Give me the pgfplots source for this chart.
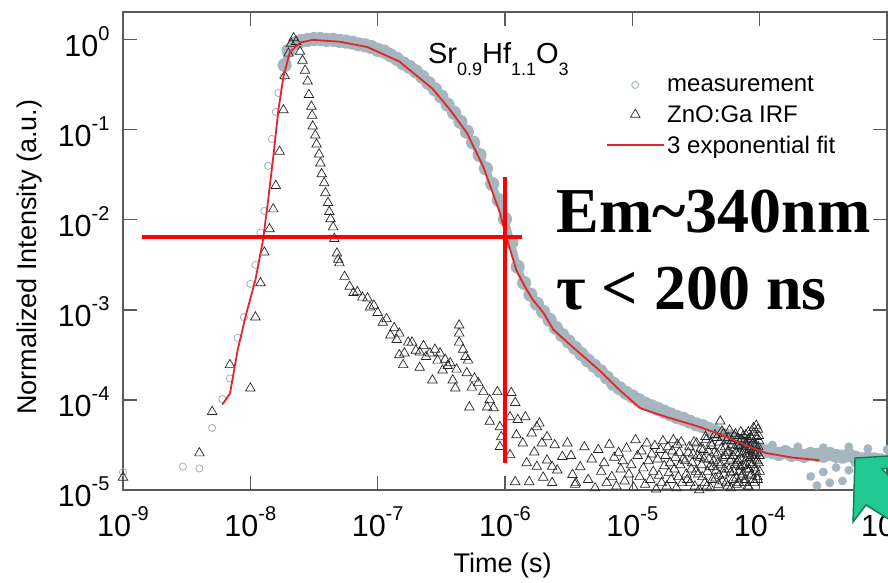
\documentclass[border=0pt]{standalone}
\usepackage{pgfplots}
\pgfplotsset{compat=1.18}
\usepackage{fontspec}
\setmainfont{Liberation Sans}
\newfontfamily\timesfont{Liberation Serif}
\definecolor{meas}{HTML}{A6B6BE}
\definecolor{measo}{HTML}{9FB0B9}
\definecolor{fitred}{HTML}{E3262A}
\definecolor{axgray}{HTML}{5A5A5A}
\definecolor{arrowfill}{HTML}{22C892}
\definecolor{arrowline}{HTML}{0E7A56}
\newcommand{\sups}[1]{\raisebox{16pt}{\fontsize{20}{21}\selectfont #1}}
\newcommand{\subs}[1]{\raisebox{-12pt}{\fontsize{18}{19}\selectfont #1}}
\begin{document}
\begin{tikzpicture}
\begin{axis}[
  set layers,
  scale only axis, width=764pt, height=478pt,
  xmode=log, ymode=log, log basis x=10, log basis y=10,
  xmin=1e-9, xmax=1e-3, ymin=1e-5, ymax=2.04,
  axis line style={draw=axgray, line width=1.1pt},
  every tick/.style={draw=axgray, line width=1.1pt},
  major tick length=14pt, minor tick length=8pt,
  xtick={1e-9,1e-8,1e-7,1e-6,1e-5,1e-4,1e-3},
  ytick={1e-5,1e-4,1e-3,1e-2,1e-1,1},
  xticklabel={\pgfmathtruncatemacro{\e}{round(\tick)}10\sups{\e}},
  yticklabel={\pgfmathtruncatemacro{\e}{round(\tick)}10\sups{\e}},
  every tick label/.append style={font=\fontsize{30.5}{32}\selectfont},
  xticklabel style={yshift=-13pt},
  yticklabel style={xshift=-10pt, yshift=-2pt},
  xlabel={Time (s)}, ylabel={Normalized Intensity (a.u.)},
  label style={font=\fontsize{27}{29}\selectfont},
  xlabel style={at={(axis description cs:0.497,-0.157)}, anchor=center},
  ylabel style={at={(axis description cs:-0.123,0.487)}, anchor=center},
  legend style={at={(rel axis cs:0.6285,0.874)}, anchor=north west, draw=none, fill=none,
     font=\fontsize{24}{26}\selectfont, row sep=8pt},
  legend cell align=left,
  legend image code/.code={\draw[mark repeat=2,mark phase=2,#1] plot coordinates {(0pt,0pt) (28pt,0pt) (57pt,0pt)};},
]
% measurement (sparse early points)
\addplot[only marks, mark=o, mark size=3.6pt, draw=measo, mark options={line width=0.8pt}] coordinates {
(1e-9,1.585e-5) (2.951e-9,1.820e-5) (3.981e-9,1.738e-5) (5.012e-9,4.898e-5)
(6.026e-9,1.023e-4) (6.918e-9,1.738e-4) (7.943e-9,4.898e-4) (8.913e-9,8.318e-4)
(1.0e-8,1.950e-3) (1.096e-8,3.162e-3) (1.202e-8,7.244e-3) (1.288e-8,1.259e-2)
(1.380e-8,3.981e-2) (1.479e-8,7.943e-2) (1.585e-8,0.1585) (1.660e-8,0.2570)
(1.820e-8,0.3890) (1.862e-8,0.5248)
};
\addlegendentry{measurement}
% measurement (dense part, overlapping points)
\addplot[color=meas, line width=6.5pt, line join=round, line cap=round, mark=*, mark size=4pt, forget plot] coordinates {
(1.862e-8,0.5248) (1.995e-8,0.7586) (2.239e-8,0.9120) (2.512e-8,0.9772) (2.818e-8,1.0) (3.162e-8,1.023)
(3.548e-8,1.023) (3.981e-8,1.0) (4.467e-8,1.0) (5.012e-8,0.9772) (5.623e-8,0.9550)
(6.310e-8,0.9333) (7.079e-8,0.8913) (7.943e-8,0.8710) (8.913e-8,0.8318) (1.0e-7,0.7762)
(1.122e-7,0.7413) (1.259e-7,0.6761) (1.413e-7,0.6166) (1.585e-7,0.5495) (1.778e-7,0.5012)
(1.995e-7,0.4467) (2.239e-7,0.3890) (2.512e-7,0.3311) (2.818e-7,0.2818) (3.162e-7,0.2344)
(3.548e-7,0.1905) (3.981e-7,0.1549) (4.467e-7,0.1230) (5.012e-7,9.550e-2) (5.623e-7,7.244e-2)
(6.310e-7,5.248e-2) (7.079e-7,3.715e-2) (7.943e-7,2.512e-2) (8.913e-7,1.660e-2) (1.0e-6,1.023e-2)
(1.122e-6,5.623e-3) (1.259e-6,3.020e-3) (1.413e-6,1.995e-3) (1.585e-6,1.479e-3) (1.778e-6,1.175e-3)
(1.995e-6,9.550e-4) (2.239e-6,7.762e-4) (2.512e-6,6.310e-4) (2.818e-6,5.248e-4) (3.162e-6,4.467e-4)
(3.548e-6,3.802e-4) (3.981e-6,3.236e-4) (4.467e-6,2.754e-4) (5.012e-6,2.399e-4) (5.623e-6,2.089e-4)
(6.310e-6,1.778e-4) (7.079e-6,1.514e-4) (7.943e-6,1.349e-4) (8.913e-6,1.202e-4) (1.0e-5,1.096e-4)
(1.122e-5,1.0e-4) (1.259e-5,9.120e-5) (1.413e-5,8.511e-5) (1.585e-5,7.943e-5) (1.778e-5,7.413e-5)
(1.995e-5,6.918e-5) (2.239e-5,6.457e-5) (2.512e-5,6.166e-5) (2.818e-5,5.754e-5) (3.162e-5,5.370e-5)
(3.548e-5,5.129e-5) (3.981e-5,4.786e-5) (4.467e-5,4.467e-5) (5.012e-5,4.169e-5) (5.623e-5,3.981e-5)
(6.310e-5,3.715e-5) (7.079e-5,3.467e-5) (7.943e-5,3.311e-5) (8.913e-5,3.020e-5) (1.0e-4,2.818e-5)
(1.122e-4,2.692e-5) (1.259e-4,2.630e-5) (1.413e-4,2.512e-5) (1.585e-4,2.630e-5) (1.778e-4,2.455e-5)
(1.995e-4,2.512e-5) (2.239e-4,2.399e-5) (2.512e-4,2.512e-5) (2.818e-4,2.455e-5) (3.162e-4,2.399e-5)
(3.548e-4,2.512e-5) (3.981e-4,2.399e-5) (4.467e-4,2.344e-5) (5.012e-4,2.455e-5) (5.623e-4,2.291e-5)
(6.310e-4,2.188e-5) (7.079e-4,2.239e-5) (7.943e-4,2.188e-5) (8.913e-4,2.138e-5) (1.0e-3,2.089e-5)
};
% measurement (scatter in the tail)
\addplot[only marks, mark=*, mark size=4.2pt, color=meas, forget plot] coordinates {
(2.512e-4,1.413e-5) (2.818e-4,1.122e-5) (3.162e-4,1.585e-5) (3.548e-4,1.202e-5) (3.981e-4,1.778e-5)
(4.467e-4,1.259e-5) (5.012e-4,1.660e-5) (5.623e-4,1.995e-5) (6.310e-4,1.585e-5) (7.943e-4,1.778e-5)
(8.913e-4,1.413e-5) (1.259e-4,3.162e-5) (1.995e-4,3.020e-5) (3.162e-4,2.951e-5) (5.012e-4,3.020e-5)
(7.079e-4,2.884e-5) (1.0e-3,2.818e-5)
};
% ZnO:Ga IRF
\addplot[only marks, mark=triangle, mark size=5.5pt, draw=black!85, mark options={line width=0.7pt}] coordinates {
(1e-9,1.380e-5) (3.981e-9,2.570e-5) (5.012e-9,7.413e-5) (6.918e-9,2.455e-4) (1.0e-8,1.349e-4)
(1.096e-8,8.318e-4) (1.202e-8,1.995e-3) (1.288e-8,4.365e-3) (1.413e-8,7.943e-3) (1.514e-8,1.318e-2)
(1.585e-8,2.399e-2) (1.698e-8,5.754e-2) (1.820e-8,0.1660) (1.862e-8,0.3981) (1.995e-8,0.7079)
(2.089e-8,0.9120) (2.188e-8,1.047) (2.291e-8,0.9550)
(2.455e-8,0.7413) (2.570e-8,0.5888) (2.692e-8,0.4571) (2.818e-8,0.3467) (2.884e-8,0.2455)
(3.020e-8,0.1820) (3.055e-8,0.1445) (3.090e-8,0.1096) (3.236e-8,8.710e-2) (3.311e-8,6.918e-2)
(3.467e-8,5.370e-2) (3.548e-8,4.266e-2) (3.631e-8,3.236e-2) (3.802e-8,2.570e-2) (3.890e-8,1.995e-2)
(4.074e-8,1.549e-2) (4.169e-8,1.230e-2) (4.266e-8,1.023e-2) (4.467e-8,8.318e-3) (4.571e-8,6.166e-3)
(4.786e-8,4.266e-3) (4.898e-8,3.631e-3) (5.012e-8,3.311e-3) (5.495e-8,2.344e-3) (6.026e-8,1.820e-3)
(6.457e-8,1.549e-3) (6.918e-8,1.585e-3) (7.586e-8,1.380e-3) (8.318e-8,1.349e-3) (8.710e-8,1.072e-3)
(9.333e-8,1.122e-3) (1.0e-7,9.333e-4) (1.096e-7,7.244e-4) (1.175e-7,7.943e-4) (1.259e-7,5.248e-4)
(1.349e-7,6.310e-4) (1.413e-7,4.677e-4) (1.479e-7,5.495e-4) (1.479e-7,3.162e-4) (1.585e-7,2.455e-4)
(1.622e-7,3.311e-4) (1.738e-7,4.365e-4) (1.862e-7,4.365e-4) (1.995e-7,3.548e-4) (2.138e-7,3.388e-4)
(2.138e-7,2.291e-4) (2.291e-7,3.981e-4) (2.399e-7,3.020e-4) (2.570e-7,3.311e-4) (2.692e-7,1.660e-4)
(2.818e-7,3.631e-4) (2.951e-7,2.754e-4) (3.090e-7,3.311e-4) (3.236e-7,2.138e-4) (3.388e-7,2.818e-4)
(3.548e-7,2.399e-4) (3.715e-7,2.570e-4) (3.890e-7,1.660e-4) (4.074e-7,1.349e-4) (4.169e-7,2.188e-4)
(4.365e-7,6.761e-4) (4.365e-7,5.495e-4) (4.365e-7,4.365e-4) (4.677e-7,3.631e-4) (4.898e-7,3.020e-4)
(5.129e-7,2.754e-4) (5.012e-7,1.995e-4) (5.248e-7,8.318e-5) (5.495e-7,1.380e-4) (5.754e-7,1.738e-4)
(6.166e-7,1.549e-4) (6.761e-7,1.230e-4) (7.244e-7,8.318e-5) (7.586e-7,1.0e-4) (7.586e-7,5.754e-5)
(8.128e-7,8.128e-5) (8.710e-7,1.230e-4) (9.120e-7,5.012e-5) (9.333e-7,3.890e-5) (9.120e-7,3.020e-5)
(1.122e-6,1.202e-4) (1.202e-6,9.333e-5) (1.096e-6,6.457e-5) (1.259e-6,6.026e-5) (1.445e-6,6.457e-5)
(1.230e-6,4.074e-5) (1.380e-6,3.311e-5) (1.096e-6,2.455e-5) (1.622e-6,4.266e-5) (1.778e-6,5.012e-5)
(1.862e-6,5.495e-5) (1.698e-6,2.630e-5) (1.950e-6,3.311e-5) (2.138e-6,3.890e-5) (2.455e-6,3.162e-5)
(3.090e-6,3.311e-5) (1.479e-6,1.995e-5) (1.778e-6,1.820e-5) (2.138e-6,2.138e-5) (2.344e-6,1.820e-5)
(2.570e-6,1.660e-5) (1.202e-6,1.230e-5) (1.549e-6,1.230e-5) (1.995e-6,1.380e-5) (2.344e-6,1.202e-5)
(3.388e-6,1.479e-5) (3.548e-6,1.148e-5) (2.818e-6,2.344e-5)
(3.3e-6,2.4e-5) (3.6e-6,1.2e-5) (3.9e-6,1.8e-5) (4.2e-6,3.0e-5) (4.5e-6,1.3e-5) (4.8e-6,2.2e-5)
(5.1e-6,1.05e-5) (5.4e-6,2.8e-5) (5.7e-6,1.6e-5) (6.0e-6,2.0e-5) (6.3e-6,1.2e-5) (6.6e-6,3.2e-5)
(6.9e-6,1.4e-5) (7.2e-6,2.3e-5) (7.5e-6,1.1e-5) (7.8e-6,2.6e-5) (8.1e-6,1.7e-5) (8.4e-6,2.1e-5)
(8.7e-6,1.25e-5) (9.0e-6,2.9e-5) (9.4e-6,1.5e-5) (9.8e-6,1.9e-5) (10.2e-6,1.07e-5) (10.6e-6,3.6e-5)
(11.0e-6,2.4e-5) (11.4e-6,1.4e-5) (11.8e-6,2.7e-5) (12.2e-6,1.75e-5) (12.6e-6,1.15e-5) (13.0e-6,3.3e-5)
(13.4e-6,2.1e-5) (13.8e-6,1.3e-5) (14.2e-6,2.5e-5) (14.6e-6,1.6e-5) (15.0e-6,3.1e-5) (15.4e-6,1.02e-5)
(15.8e-6,2.2e-5) (16.2e-6,1.45e-5) (16.6e-6,2.8e-5) (17.0e-6,1.2e-5) (17.4e-6,3.5e-5) (17.8e-6,1.85e-5)
(18.2e-6,2.4e-5) (18.6e-6,1.1e-5) (19.0e-6,3.0e-5) (19.4e-6,1.55e-5) (19.8e-6,2.0e-5) (20.2e-6,1.3e-5)
(20.6e-6,2.7e-5) (21.0e-6,3.6e-5) (21.4e-6,1.7e-5) (21.8e-6,2.3e-5) (22.2e-6,1.05e-5) (22.6e-6,3.2e-5)
(23.0e-6,1.4e-5) (23.4e-6,2.6e-5) (23.8e-6,1.9e-5) (24.2e-6,3.4e-5) (24.6e-6,1.2e-5) (25.0e-6,2.2e-5)
(26e-6,2.1e-5) (27e-6,1.3e-5) (28e-6,3.0e-5) (29e-6,1.7e-5) (30e-6,2.5e-5) (31e-6,1.1e-5)
(32e-6,3.3e-5) (33e-6,1.5e-5) (34e-6,2.3e-5) (35e-6,1.9e-5) (36e-6,2.8e-5) (37e-6,1.2e-5)
(38e-6,3.6e-5) (39e-6,1.6e-5) (40e-6,2.2e-5) (41e-6,1.05e-5) (42e-6,3.1e-5) (43e-6,1.8e-5)
(44e-6,2.6e-5) (45e-6,1.35e-5) (46e-6,3.8e-5) (47e-6,2.0e-5) (48e-6,1.45e-5) (49e-6,5.8e-5)
(50e-6,2.9e-5) (51e-6,1.25e-5) (52e-6,4.2e-5) (53e-6,1.7e-5) (54e-6,2.4e-5) (55e-6,3.5e-5)
(56e-6,1.1e-5) (57e-6,2.7e-5) (58e-6,4.6e-5) (59e-6,1.55e-5) (60e-6,2.2e-5) (61e-6,3.2e-5)
(62e-6,1.3e-5) (63e-6,4.0e-5) (64e-6,1.9e-5) (65e-6,2.6e-5) (66e-6,1.15e-5) (67e-6,3.7e-5)
(68e-6,2.1e-5) (69e-6,1.6e-5) (70e-6,3.0e-5) (71e-6,4.4e-5) (72e-6,1.4e-5) (73e-6,2.5e-5)
(74e-6,1.85e-5) (75e-6,3.4e-5) (76e-6,1.2e-5) (77e-6,2.9e-5) (78e-6,4.1e-5) (79e-6,1.7e-5)
(80e-6,2.3e-5) (81e-6,3.6e-5) (82e-6,1.08e-5) (83e-6,2.8e-5) (84e-6,2.0e-5) (85e-6,3.9e-5)
(86e-6,1.5e-5) (87e-6,2.4e-5) (88e-6,3.3e-5) (89e-6,1.3e-5) (90e-6,4.3e-5) (91e-6,2.2e-5)
(92e-6,1.75e-5) (93e-6,3.1e-5) (94e-6,5.2e-5) (95e-6,2.6e-5) (96e-6,1.4e-5) (97e-6,4.7e-5)
(98e-6,2.0e-5) (99e-6,3.5e-5) (100e-6,1.6e-5)
(26.5e-6,1.5e-5) (27.5e-6,2.6e-5) (28.5e-6,1.2e-5) (29.5e-6,2.0e-5) (30.5e-6,3.4e-5) (31.5e-6,1.6e-5)
(32.5e-6,2.4e-5) (33.5e-6,1.0e-5) (34.5e-6,2.9e-5) (35.5e-6,1.4e-5) (36.5e-6,2.2e-5) (37.5e-6,3.9e-5)
(38.5e-6,1.1e-5) (39.5e-6,2.7e-5) (40.5e-6,1.8e-5) (41.5e-6,3.3e-5) (42.5e-6,1.3e-5) (43.5e-6,2.1e-5)
(44.5e-6,4.1e-5) (45.5e-6,1.65e-5) (46.5e-6,2.5e-5) (47.5e-6,1.15e-5) (48.5e-6,3.4e-5) (49.5e-6,1.9e-5)
(50.5e-6,4.5e-5) (51.5e-6,2.3e-5) (52.5e-6,1.5e-5) (53.5e-6,3.0e-5) (54.5e-6,1.2e-5) (55.5e-6,2.6e-5)
(56.5e-6,3.8e-5) (57.5e-6,1.7e-5) (58.5e-6,2.1e-5) (59.5e-6,1.05e-5) (60.5e-6,3.5e-5) (61.5e-6,2.4e-5)
(62.5e-6,1.6e-5) (63.5e-6,2.9e-5) (64.5e-6,4.2e-5) (65.5e-6,1.35e-5) (66.5e-6,2.0e-5) (67.5e-6,3.1e-5)
(68.5e-6,1.2e-5) (69.5e-6,2.6e-5) (70.5e-6,1.8e-5) (71.5e-6,3.6e-5) (72.5e-6,2.2e-5) (73.5e-6,1.5e-5)
(74.5e-6,4.0e-5) (75.5e-6,2.7e-5) (76.5e-6,1.3e-5) (77.5e-6,3.2e-5) (78.5e-6,1.9e-5) (79.5e-6,2.5e-5)
(80.5e-6,1.1e-5) (81.5e-6,4.4e-5) (82.5e-6,1.7e-5) (83.5e-6,3.0e-5) (84.5e-6,2.3e-5) (85.5e-6,1.45e-5)
(86.5e-6,3.7e-5) (87.5e-6,1.9e-5) (88.5e-6,2.7e-5) (89.5e-6,4.9e-5) (90.5e-6,1.2e-5) (91.5e-6,3.2e-5)
(92.5e-6,2.5e-5) (93.5e-6,1.6e-5) (94.5e-6,3.9e-5) (95.5e-6,2.1e-5) (96.5e-6,1.3e-5) (97.5e-6,3.0e-5)
(98.5e-6,4.0e-5) (99.5e-6,2.4e-5)
};
\addlegendentry{ZnO:Ga IRF}
% 3 exponential fit
\addplot[fitred, line width=1.8pt, no marks, on layer=axis foreground] coordinates {
(6.03e-9,8.91e-5) (6.92e-9,1.175e-4) (7.94e-9,3.55e-4) (9.33e-9,9.33e-4) (1.096e-8,2.14e-3)
(1.259e-8,6.03e-3) (1.380e-8,1.66e-2) (1.514e-8,5.01e-2) (1.660e-8,0.166) (1.820e-8,0.389)
(2.042e-8,0.724) (2.455e-8,0.933) (3.09e-8,1.0) (5.01e-8,0.955) (8.32e-8,0.832)
(1.479e-7,0.575) (2.69e-7,0.288) (3.72e-7,0.166) (5.01e-7,0.0933) (6.76e-7,0.0389)
(9.12e-7,0.0120) (1.023e-6,6.46e-3) (1.23e-6,2.75e-3) (1.445e-6,1.78e-3) (1.66e-6,1.29e-3)
(2.0e-6,9.33e-4) (2.4e-6,6.03e-4) (3.39e-6,3.89e-4) (5.5e-6,2.14e-4) (7.94e-6,1.29e-4)
(1.148e-5,8.13e-5) (1.86e-5,6.46e-5) (3.39e-5,5.01e-5) (5.5e-5,3.89e-5) (8.32e-5,3.02e-5)
(1.122e-4,2.57e-5) (1.82e-4,2.29e-5) (2.95e-4,2.14e-5)
};
\addlegendentry{3 exponential fit}
% red cross annotation
\addplot[red, line width=4.5pt, forget plot, on layer=axis foreground] coordinates {(1.41e-9,6.46e-3) (1.355e-6,6.46e-3)};
\addplot[red, line width=4.5pt, forget plot, on layer=axis foreground] coordinates {(1e-6,3.0e-2) (1e-6,2.0e-5)};
\node[anchor=base west, inner sep=0pt, font=\fontsize{29}{31}\selectfont] at (rel axis cs:0.399,0.893)
  {Sr\subs{0.9}Hf\subs{1.1}O\subs{3}};
\node[anchor=base west, inner sep=0pt, font=\timesfont\bfseries\fontsize{64}{66}\selectfont] at (rel axis cs:0.567,0.538) {Em\textasciitilde340nm};
\node[anchor=base west, inner sep=0pt, font=\timesfont\bfseries\fontsize{64}{66}\selectfont] at (rel axis cs:0.567,0.377) {τ < 200 ns};
\end{axis}
\begin{scope}[shift={(current axis.south west)}, x=1pt, y=1pt]
\filldraw[fill=arrowfill, draw=arrowline, line width=1.4pt, line join=miter]
  (732,32) -- (767,34) -- (767,22) -- (759,21) -- (767,13) -- (767,-30) -- (743,-15) -- (730,-32) -- cycle;
\end{scope}
\pgfresetboundingbox
\path[use as bounding box] ([shift={(-123pt,-92pt)}]current axis.south west) rectangle ([shift={(765pt,490pt)}]current axis.south west);
\end{tikzpicture}
\end{document}
